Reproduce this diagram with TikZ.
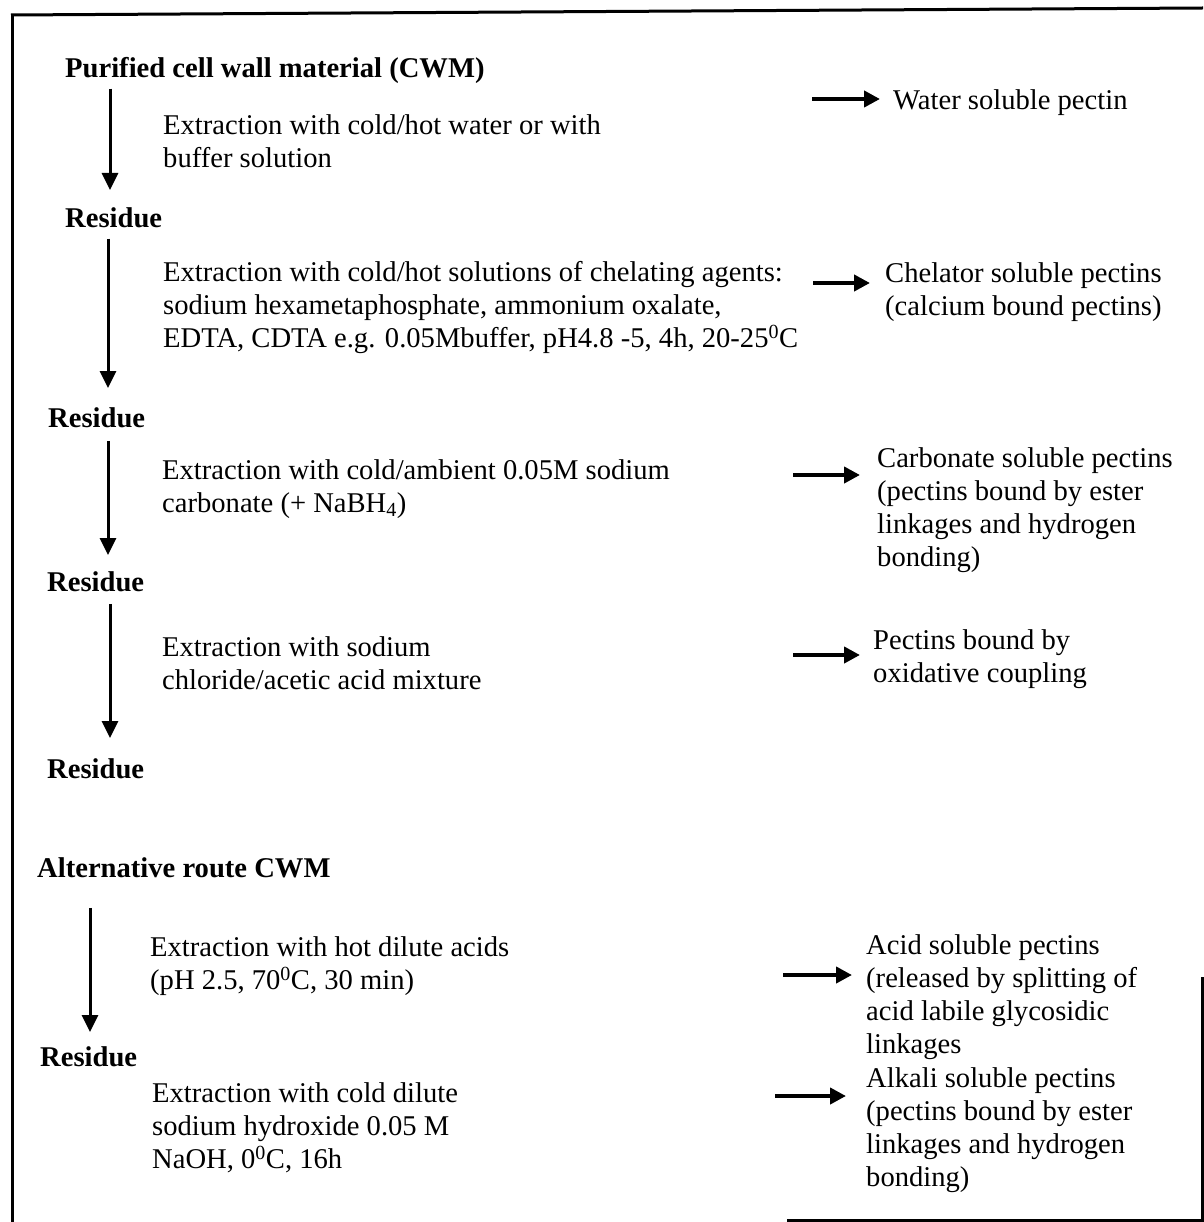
\documentclass[tikz,border=0pt]{standalone}
\usepackage{fontspec}
\setmainfont{Liberation Serif}
\usetikzlibrary{arrows.meta}
\begin{document}
\begin{tikzpicture}[x=1pt,y=-1pt,
  txt/.style={anchor=north west, inner sep=0pt, align=left,
    font=\fontsize{28.6}{33}\selectfont, execute at begin node=\rule{0pt}{20pt}},
  btxt/.style={txt, font=\fontsize{28.6}{33}\selectfont\bfseries},
  varrow/.style={line width=3pt, -{Triangle[width=16pt,length=17pt]}},
  harrow/.style={line width=4pt, -{Triangle[width=16pt,length=16pt]}},
  frame/.style={line width=3pt}]
\useasboundingbox (0,0) rectangle (1203,1222);
% frame
\draw[frame] (11,15) -- (1203,8);
\draw[frame] (12,14) -- (12,1222);
\draw[frame] (787,1220) -- (1202,1220) -- (1202,977);

% left column
\node[btxt] (t0) at (65,57) {Purified cell wall material (CWM)};
\node[txt] (e1) at (163,114) {Extraction with cold/hot water or with\\buffer solution};
\node[btxt] (r1) at (65,207) {Residue};
\node[txt] (e2) at (163,261) {Extraction with cold/hot solutions of chelating agents:\\sodium hexametaphosphate, ammonium oxalate,\\EDTA, CDTA e.g. 0.05Mbuffer, pH4.8 -5, 4h, 20-25\textsuperscript{0}C};
\node[btxt] (r2) at (48,407) {Residue};
\node[txt] (e3) at (162,459) {Extraction with cold/ambient 0.05M sodium\\carbonate (+ NaBH\textsubscript{4})};
\node[btxt] (r3) at (47,571) {Residue};
\node[txt] (e4) at (162,636) {Extraction with sodium\\chloride/acetic acid mixture};
\node[btxt] (r4) at (47,758) {Residue};
\node[btxt] (alt) at (37,857) {Alternative route CWM};
\node[txt] (e5) at (150,936) {Extraction with hot dilute acids\\(pH 2.5, 70\textsuperscript{0}C, 30 min)};
\node[btxt] (r5) at (40,1046) {Residue};
\node[txt] (e6) at (152,1082) {Extraction with cold dilute\\sodium hydroxide 0.05 M\\NaOH, 0\textsuperscript{0}C, 16h};

% right column
\node[txt] (w1) at (893,89) {Water soluble pectin};
\node[txt] (w2) at (885,262) {Chelator soluble pectins\\(calcium bound pectins)};
\node[txt] (w3) at (877,447) {Carbonate soluble pectins\\(pectins bound by ester\\linkages and hydrogen\\bonding)};
\node[txt] (w4) at (873,629) {Pectins bound by\\oxidative coupling};
\node[txt] (w5) at (866,934) {Acid soluble pectins\\(released by splitting of\\acid labile glycosidic\\linkages};
\node[txt] (w6) at (866,1067) {Alkali soluble pectins\\(pectins bound by ester\\linkages and hydrogen\\bonding)};

% vertical arrows
\coordinate (x1) at (110,0);
\coordinate (x2) at (108,0);
\coordinate (x3) at (108,0);
\coordinate (x4) at (110,0);
\coordinate (x5) at (90,0);
\draw[varrow, shorten <=5pt, shorten >=17pt] (t0.south -| x1) -- (r1.north -| x1);
\draw[varrow, shorten <=11pt, shorten >=19pt] (r1.south -| x2) -- (r2.north -| x2);
\draw[varrow, shorten <=13pt, shorten >=16pt] (r2.south -| x3) -- (r3.north -| x3);
\draw[varrow, shorten <=12pt, shorten >=20pt] (r3.south -| x4) -- (r4.north -| x4);
\draw[varrow, shorten <=30pt, shorten >=14pt] (alt.south -| x5) -- (r5.north -| x5);

% horizontal arrows
\coordinate (h1) at (812,99);
\coordinate (h2) at (813,283);
\coordinate (h3) at (793,475);
\coordinate (h4) at (793,655);
\coordinate (h5) at (783,975);
\coordinate (h6) at (775,1096);
\draw[harrow, shorten >=13pt] (h1) -- (h1 -| w1.west);
\draw[harrow, shorten >=15pt] (h2) -- (h2 -| w2.west);
\draw[harrow, shorten >=17pt] (h3) -- (h3 -| w3.west);
\draw[harrow, shorten >=13pt] (h4) -- (h4 -| w4.west);
\draw[harrow, shorten >=14pt] (h5) -- (h5 -| w5.west);
\draw[harrow, shorten >=20pt] (h6) -- (h6 -| w6.west);
\end{tikzpicture}
\end{document}
